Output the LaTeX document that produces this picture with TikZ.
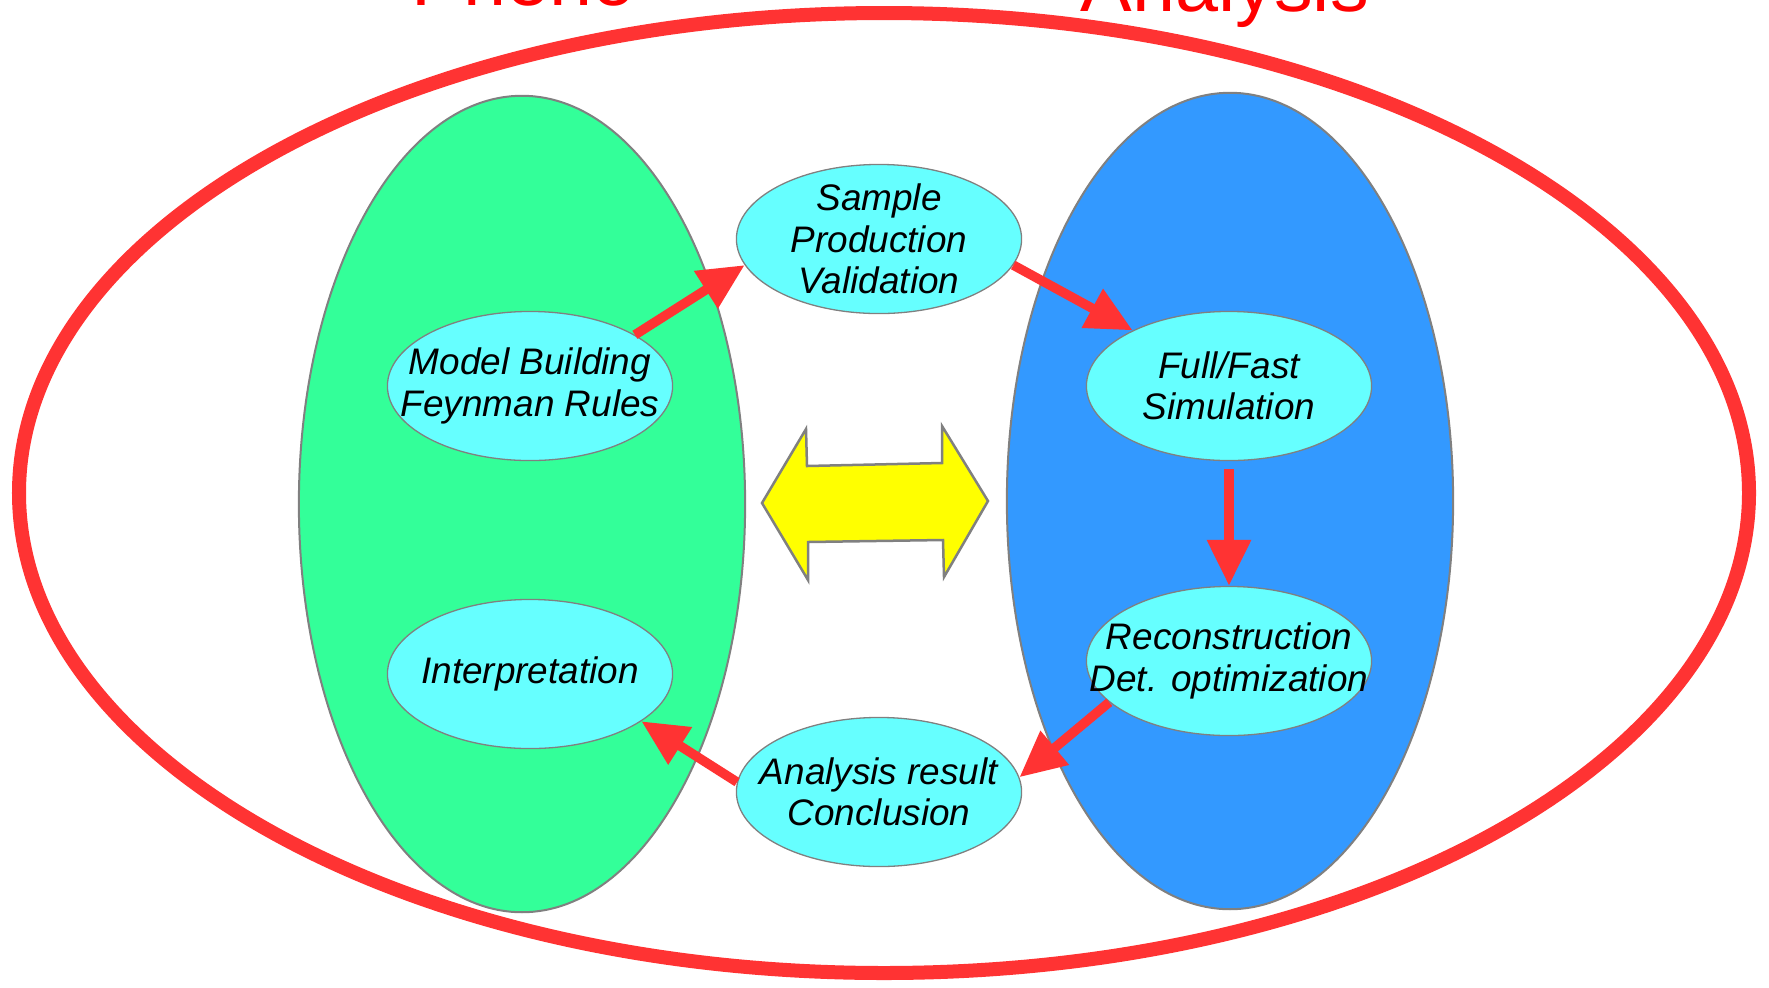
\documentclass[tikz,border=0pt]{standalone}
\usepackage{fontspec}
\setmainfont{Liberation Sans}
\usepackage{tikz}
\usetikzlibrary{arrows.meta,positioning,shapes.geometric}
\definecolor{phenogreen}{RGB}{51,255,153}
\definecolor{anablue}{RGB}{51,153,255}
\definecolor{bubblecyan}{RGB}{102,255,255}
\definecolor{flowred}{RGB}{255,51,51}
\definecolor{edgegray}{RGB}{128,128,128}
\definecolor{swapyellow}{RGB}{255,255,0}

\begin{document}
\begin{tikzpicture}[x=0.01cm, y=-0.01cm,
    every node/.style={font=\fontsize{10.5}{11.8}\selectfont\itshape},
    region/.style={draw=edgegray, line width=0.02cm, ellipse,
                   minimum width=4.46cm, minimum height=8.16cm},
    bubble/.style={draw=edgegray, line width=0.013cm, fill=bubblecyan, ellipse,
                   minimum width=2.85cm, minimum height=1.49cm,
                   inner xsep=-0.5cm, inner ysep=-0.2cm, align=center},
    flow/.style={draw=flowred, line width=0.095cm,
                 -{Triangle[length=0.46cm, width=0.42cm]}},
    titletext/.style={text=red, font=\fontsize{22}{26}\selectfont, inner sep=0pt}]
    \useasboundingbox (0,0) rectangle (1769,987);
    \clip (0,0) rectangle (1769,987);
    % outer frame
    \draw[flowred, line width=0.14cm] (884,493) ellipse [x radius=865, y radius=480];
    \node[titletext, anchor=base west] (phenotitle) at (411,5) {Pheno};
    \node[titletext, anchor=base west] (anatitle) at (1080,11) {Analysis};
    % two halves
    \node[region, fill=phenogreen] (pheno) at (522,504) {};
    \node[region, fill=anablue] (analysis) at (1230,501) {};
    % exchange arrow
    \draw[edgegray, line width=0.025cm, fill=swapyellow, line join=miter]
      (762,503) -- (806,429) -- (807,466) -- (942,463) -- (942,426) -- (988,501)
      -- (944,577) -- (943,540) -- (808,542) -- (808,580) -- cycle;
    % steps
    \node[bubble] (sample) at (879,239) {Sample\\Production\\Validation};
    \node[bubble] (model) at (530,386) {Model Building\\Feynman Rules};
    \node[bubble] (interp) at (530,674) {Interpretation};
    \node[bubble] (fullsim) at (1229,386) {Full/Fast\\Simulation};
    \node[bubble] (recon) at (1229,661) {Reconstruction\\Det. optimization};
    \node[bubble] (result) at (879,792) {Analysis result\\Conclusion};
    \draw[flow] (model.26) -- (sample.191);
    \draw[flow] (sample.-11) -- (fullsim.150);
    \draw[flow, shorten <=0.08cm] (fullsim) -- (recon);
    \draw[flow] (recon.199) -- (result.6);
    \draw[flow] (result.176) -- (interp.-23);
  \end{tikzpicture}
\end{document}
